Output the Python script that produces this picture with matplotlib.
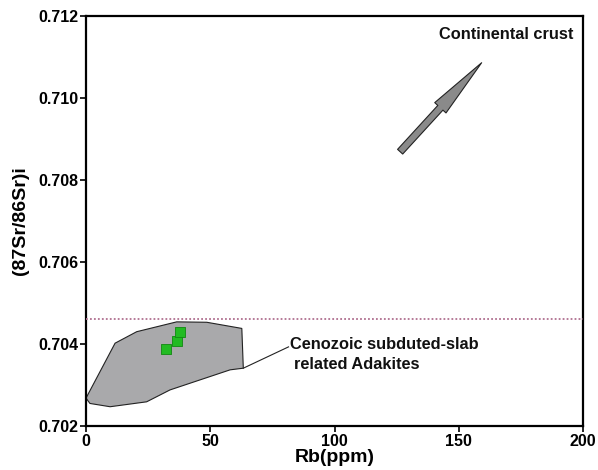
import matplotlib
matplotlib.use("Agg")
import matplotlib.pyplot as plt
from matplotlib.patches import Polygon

plt.rcParams['font.family'] = ['Liberation Sans', 'DejaVu Sans']
plt.rcParams['font.weight'] = 'bold'

# Data
field_rb = [0, 11.7, 20.4, 36.5, 48.6, 62.7, 63.3, 58, 33.8, 24.4, 9.7, 1.6]
field_sr = [0.70268, 0.70402, 0.7043, 0.70454, 0.70453, 0.70438, 0.70341,
            0.70337, 0.70288, 0.70259, 0.70247, 0.70255]
sample_rb = [32.2, 36.5, 37.8]
sample_sr = [0.70387, 0.70408, 0.70429]
ref_line_sr = 0.70461
arrow_tail = (126.4, 0.70869)
arrow_tip = (159.2, 0.71086)
xticks = [0, 50, 100, 150, 200]
yticks = [0.702, 0.704, 0.706, 0.708, 0.710, 0.712]

fig = plt.figure(figsize=(5.98, 4.70), dpi=100)
ax = fig.add_axes([0.1438, 0.0936, 0.8312, 0.8724])
ax.set_xlim(0, 200)
ax.set_ylim(0.702, 0.712)

poly = Polygon(list(zip(field_rb, field_sr)), closed=True, facecolor='#a9a9ab',
               edgecolor='#222222', linewidth=0.8, zorder=2)
ax.add_patch(poly)

ax.scatter(sample_rb, sample_sr, marker='s', s=45, color='#22bb22',
           edgecolors='#118811', linewidths=0.6, zorder=4)

ax.axhline(ref_line_sr, color='#b07090', linestyle=(0, (1, 1.2)), linewidth=1.3, zorder=3)

ax.annotate('', xy=arrow_tip, xytext=arrow_tail,
            arrowprops=dict(arrowstyle='simple,head_length=44,head_width=11,tail_width=5',
                            mutation_scale=1, facecolor='#8a8a8a', edgecolor='#222222',
                            linewidth=0.8, shrinkA=0, shrinkB=0))

ax.text(196, 0.71155, 'Continental crust', ha='right', va='center', fontsize=11.8,
        fontweight='bold', color='#111111')
ax.text(82, 0.70399, 'Cenozoic subduted-slab', ha='left', va='center', fontsize=11.8,
        fontweight='bold', color='#111111')
ax.text(83.5, 0.70351, 'related Adakites', ha='left', va='center', fontsize=11.8,
        fontweight='bold', color='#111111')
ax.plot([63.3, 81.5], [0.70341, 0.70393], color='#222222', linewidth=0.8, zorder=3)

ax.set_xticks(xticks)
ax.set_xticklabels([str(t) for t in xticks])
ax.set_yticks(yticks)
ax.set_yticklabels(['%.3f' % t for t in yticks])
ax.tick_params(direction='out', length=4, width=1.2, labelsize=11.5, pad=1.5)
for lab in ax.get_xticklabels() + ax.get_yticklabels():
    lab.set_fontweight('bold')
for sp in ax.spines.values():
    sp.set_linewidth(1.6)

ax.set_xlabel('Rb(ppm)', fontsize=14, fontweight='bold', labelpad=0)
ax.set_ylabel('(87Sr/86Sr)i', fontsize=14, fontweight='bold', labelpad=7)

fig.savefig('out.png', dpi=100)
